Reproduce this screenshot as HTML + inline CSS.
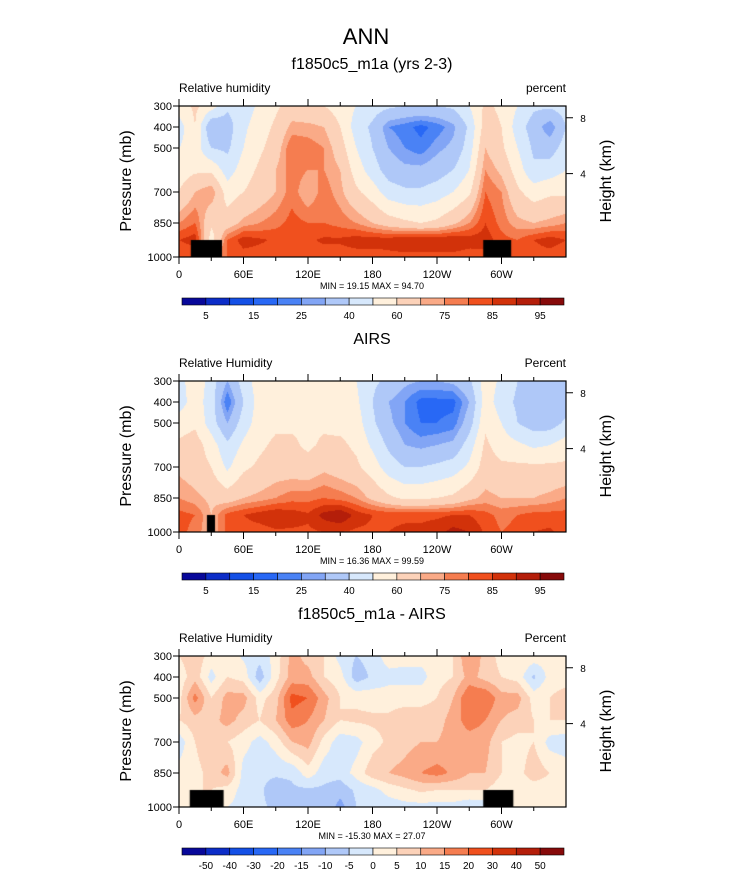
<!DOCTYPE html>
<html><head><meta charset="utf-8">
<style>
html,body{margin:0;padding:0;background:#fff;}
#wrap{position:relative;width:733px;height:888px;overflow:hidden;font-family:"Liberation Sans",Arial,sans-serif;}
canvas{position:absolute;}
svg{position:absolute;left:0;top:0;}
</style></head>
<body>
<div id="wrap">
<canvas id="c1" width="387" height="151" style="left:179px;top:106px"></canvas>
<canvas id="c2" width="387" height="151" style="left:179px;top:381px"></canvas>
<canvas id="c3" width="387" height="151" style="left:179px;top:656px"></canvas>
<svg id="ov" width="733" height="888"></svg>
</div>
<script>
// ---- data ----
const lons = [0,15,30,45,60,75,90,105,120,135,150,165,180,195,210,225,240,255,270,285,300,315,330,345,360];
const levels = [300,400,500,600,700,850,925,1000];
const modelRH = [
[55,45,50,55,60,75,85,80],[62,60,55,58,70,80,88,80],[55,30,40,58,75,62,55,80],[42,35,38,45,55,65,80,80],
[45,48,50,55,60,72,88,82],[52,55,58,62,65,75,86,82],[58,62,65,70,70,78,84,82],[65,72,80,78,78,82,84,82],
[62,72,78,75,70,80,84,82],[60,70,75,75,78,80,86,82],[55,60,65,70,72,78,86,82],[50,45,50,55,62,75,88,82],
[45,38,40,45,55,70,88,82],[42,25,30,35,45,65,88,83],[40,22,25,32,42,62,90,83],[40,18,22,32,42,60,90,83],
[40,22,28,35,45,62,90,83],[42,28,32,40,50,68,90,83],[50,42,45,50,58,75,88,82],[62,65,70,75,80,85,88,82],
[58,60,62,68,75,78,82,80],[50,45,50,55,62,72,80,82],[42,35,38,42,55,70,85,82],[42,25,35,45,58,72,88,82],
[45,40,45,50,58,75,85,80]];
const airsRH = [
[45,45,55,62,68,75,82,82],[58,55,58,65,65,72,80,78],[45,45,45,55,60,68,70,70],[30,20,30,42,48,65,82,82],
[45,40,45,52,58,70,85,82],[55,55,55,58,62,72,88,82],[60,60,58,62,65,75,90,84],[55,55,58,62,65,78,88,84],
[55,55,58,58,64,78,86,84],[55,58,58,62,68,80,92,85],[55,55,57,62,65,78,95,85],[50,52,55,58,62,75,88,84],
[42,40,42,48,55,68,85,84],[38,30,32,38,45,62,84,85],[32,25,25,30,40,58,84,86],[30,18,20,28,40,58,84,86],
[30,18,20,30,42,60,84,88],[32,18,22,32,45,62,85,92],[38,30,35,45,52,68,85,90],[55,55,58,62,65,72,82,84],
[48,45,50,55,62,70,78,80],[40,38,40,52,62,70,80,82],[40,32,35,48,62,70,82,85],[32,30,35,50,62,72,82,86],
[38,35,42,55,62,75,82,82]];
const diffRH = [
[5,2,3,5,-3,2,0,3],[8,8,17,8,5,3,5,3],[3,-2,5,8,10,7,5,3],[3,5,12,12,5,12,3,0],
[-1,3,12,8,2,-2,-2,-2],[-3,-8,3,5,-2,-4,-4,-4],[2,3,8,10,2,-4,-8,-6],[12,12,22,18,10,-4,-6,-6],
[8,12,20,15,12,3,-6,-6],[5,5,12,10,3,-3,-6,-6],[-2,2,5,5,-3,-3,-8,-12],[-5,-8,4,6,-2,2,-4,-5],
[-3,-4,3,6,3,8,-2,-4],[3,-2,3,6,6,10,2,-3],[2,-2,3,8,8,12,4,-2],[2,-2,3,8,10,15,6,-2],
[2,3,5,8,10,17,5,-2],[5,5,10,12,12,14,5,-2],[15,12,20,18,12,10,5,-4],[8,8,20,15,12,10,5,-3],
[3,5,12,10,5,5,2,0],[5,3,12,8,3,3,2,0],[3,-6,3,5,5,8,2,0],[2,2,5,5,-2,5,2,0],
[3,2,8,5,-3,3,0,0]];
const rhBounds = [5,10,15,20,25,30,40,50,60,70,75,80,85,90,95];
const rhLabels = ["5","15","25","40","60","75","85","95"];
const diffBounds = [-50,-40,-30,-20,-15,-10,-5,0,5,10,15,20,30,40,50];
const diffLabels = ["-50","-40","-30","-20","-15","-10","-5","0","5","10","15","20","30","40","50"];
const pTicks = [300,400,500,700,850,1000];
const hTicks = [8,4];
const xTicks = [0,60,120,180,240,300];
const xTickLabels = ["0","60E","120E","180","120W","60W"];
const land1 = [[11,40,925],[283,309,925]];
const land2 = [[26,33.5,925]];
const land3 = [[10,41.5,925],[283,311,925]];
const stats = ["MIN =  19.15  MAX =  94.70","MIN =  16.36  MAX =  99.59","MIN = -15.30  MAX =  27.07"];
const palette = ['#08089a','#0c2dc8','#1450e6','#2868f5','#4a82f5','#82a5f5','#afc8f8','#d7e8fc','#fff0dc','#fcd2b9','#faaa87','#f57d50','#f0501e','#d2320a','#b41e0a','#870a0a'];

// ---- axes ----
const PW=387, PH=151, PX=179;
const pAxisP=[300,400,500,700,850,1000], pAxisY=[0,21,42,86,117,151];
function yOfP(p){for(let i=0;i<pAxisP.length-1;i++){if(p<=pAxisP[i+1]){const t=(p-pAxisP[i])/(pAxisP[i+1]-pAxisP[i]);return pAxisY[i]+t*(pAxisY[i+1]-pAxisY[i]);}}return PH;}
function pOfY(y){for(let i=0;i<pAxisY.length-1;i++){if(y<=pAxisY[i+1]){const t=(y-pAxisY[i])/(pAxisY[i+1]-pAxisY[i]);return pAxisP[i]+t*(pAxisP[i+1]-pAxisP[i]);}}return 1000;}
function xOfLon(l){return l/360*PW;}
function band(v,b){let k=0;while(k<b.length&&v>=b[k])k++;return k;}
function hex(h){return [parseInt(h.substr(1,2),16),parseInt(h.substr(3,2),16),parseInt(h.substr(5,2),16)];}
const palRGB=palette.map(hex);

function drawField(id,data,bounds,land){
  const cv=document.getElementById(id),ctx=cv.getContext('2d');
  const img=ctx.createImageData(PW,PH);
  for(let py=0;py<PH;py++){
    const p=pOfY(py+0.5);
    let r=0;while(r<levels.length-2&&p>levels[r+1])r++;
    const tr=Math.min(1,Math.max(0,(p-levels[r])/(levels[r+1]-levels[r])));
    for(let px=0;px<PW;px++){
      const lon=(px+0.5)/PW*360;
      let c=0;while(c<lons.length-2&&lon>lons[c+1])c++;
      const tc=(lon-lons[c])/(lons[c+1]-lons[c]);
      const v=(data[c][r]*(1-tc)+data[c+1][r]*tc)*(1-tr)+(data[c][r+1]*(1-tc)+data[c+1][r+1]*tc)*tr;
      const col=palRGB[band(v,bounds)],o=(py*PW+px)*4;
      img.data[o]=col[0];img.data[o+1]=col[1];img.data[o+2]=col[2];img.data[o+3]=255;
    }
  }
  ctx.putImageData(img,0,0);
  ctx.fillStyle='#000';
  land.forEach(L=>{const x0=xOfLon(L[0]),x1=xOfLon(L[1]),y0=yOfP(L[2]);ctx.fillRect(x0,y0,x1-x0,PH-y0);});
}
drawField('c1',modelRH,rhBounds,land1);
drawField('c2',airsRH,rhBounds,land2);
drawField('c3',diffRH,diffBounds,land3);

const NS='http://www.w3.org/2000/svg', ov=document.getElementById('ov');
function mk(tag,attrs,parent){const e=document.createElementNS(NS,tag);for(const k in attrs)e.setAttribute(k,attrs[k]);(parent||ov).appendChild(e);return e;}
function txt(s,x,y,size,anchor,parent,extra){const e=mk('text',Object.assign({x:x,y:y,'font-size':size,'text-anchor':anchor||'start',fill:'#000'},extra||{}),parent);e.textContent=s;return e;}

const t0=txt('ANN',366,44,22,'middle');



const panels=[
 {top:106,title:'f1850c5_m1a (yrs 2-3)',left:'Relative humidity',right:'percent',bounds:rhBounds,labels:rhLabels,every:2,stat:stats[0],name:'model'},
 {top:381,title:'AIRS',left:'Relative Humidity',right:'Percent',bounds:rhBounds,labels:rhLabels,every:2,stat:stats[1],name:'airs'},
 {top:656,title:'f1850c5_m1a - AIRS',left:'Relative Humidity',right:'Percent',bounds:diffBounds,labels:diffLabels,every:1,stat:stats[2],name:'difference'}];

panels.forEach((P,i)=>{
  const g=mk('g',{});
  
  
  const T=P.top;
  let e=txt(P.title,372,T-37,16,'middle',g);
  
  
  e=txt(P.left,179,T-14,12,'start',g);
  
  
  e=txt(P.right,566,T-14,12,'end',g);
  
  
  e=mk('rect',{x:PX,y:T,width:PW,height:PH,fill:'none',stroke:'#000','stroke-width':1.2},g);
  
  
  pTicks.forEach(p=>{const y=T+yOfP(p);
    mk('line',{x1:PX-6,x2:PX,y1:y,y2:y,stroke:'#000','stroke-width':1},g);
    const l=txt(String(p),172,y+4,11,'end',g);
    
    });
  hTicks.forEach(h=>{const p=1013.25*Math.pow(1-h/44.33,5.256);const y=T+yOfP(p);
    mk('line',{x1:PX+PW,x2:PX+PW+7,y1:y,y2:y,stroke:'#000','stroke-width':1},g);
    const l=txt(String(h),583,y+4,10,'middle',g);
    
    });
  for(let lon=0;lon<=330;lon+=30){const x=PX+xOfLon(lon);const major=lon%60===0;const len=major?7:4;
    mk('line',{x1:x,x2:x,y1:T,y2:T-len,stroke:'#000','stroke-width':1},g);
    mk('line',{x1:x,x2:x,y1:T+PH,y2:T+PH+len,stroke:'#000','stroke-width':1},g);}
  xTicks.forEach((lon,k)=>{const l=txt(xTickLabels[k],PX+xOfLon(lon),T+PH+21,11,'middle',g);
    
    });
  e=txt(P.stat,372,T+PH+32,9,'middle',g);
  
  
  e=txt('Pressure (mb)',0,0,16,'middle',g,{transform:'translate(131,'+(T+75)+') rotate(-90)'});
  
  
  e=txt('Height (km)',0,0,16,'middle',g,{transform:'translate(611,'+(T+75)+') rotate(-90)'});
  
  
  const cb=mk('g',{},g);
  
  
  const cx0=182,cw=382,cy=T+192,bw=cw/16;
  palette.forEach((c,k)=>{const r=mk('rect',{x:cx0+k*bw,y:cy,width:bw,height:7,fill:c,stroke:'#000','stroke-width':0.6},cb);
    
    });
  P.labels.forEach((s,k)=>{const bi=k*P.every;const l=txt(s,cx0+(bi+1)*bw,cy+21,10,'middle',cb);
    
    });
});
</script>
</body></html>
